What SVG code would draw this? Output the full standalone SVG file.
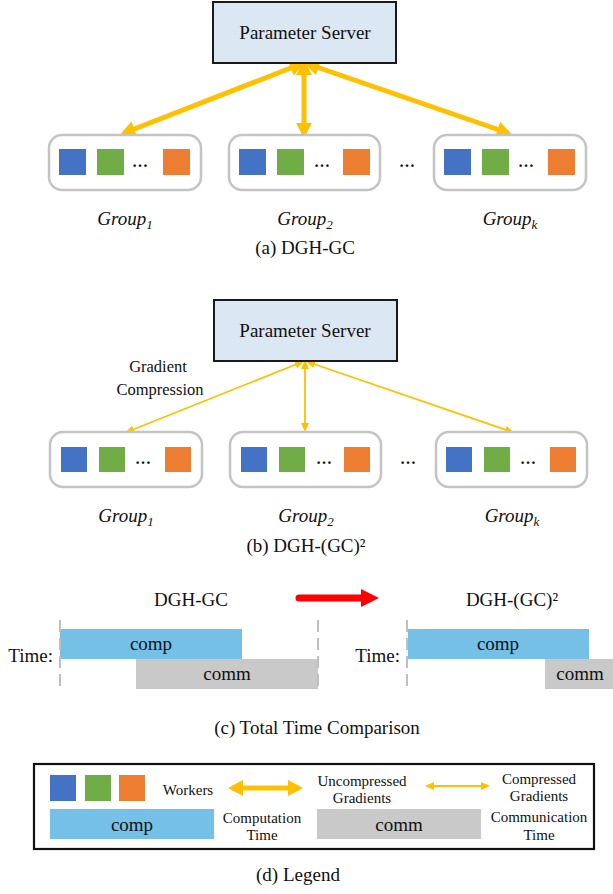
<svg xmlns="http://www.w3.org/2000/svg" width="613" height="894" viewBox="0 0 613 894">
<defs>
<style>
text{font-family:"Liberation Serif","Times New Roman",Tinos,"Noto Serif","DejaVu Serif",serif;fill:#111}
.ps{fill:#DCE7F4;stroke:#1a1a1a;stroke-width:2}
.grp{fill:#fff;stroke:#C4C4C4;stroke-width:2.5}
.b{fill:#4472C4}.g{fill:#70AD47}.o{fill:#ED7D31}
.thick{stroke:#FFC000;stroke-width:5;fill:none;marker-start:url(#hT);marker-end:url(#hT)}
.thin{stroke:#FFC000;stroke-width:1.8;fill:none;marker-start:url(#hS);marker-end:url(#hS)}
.comp{fill:#75C0E7}.comm{fill:#C9C9C9}
.dash{stroke:#BFBFBF;stroke-width:2;stroke-dasharray:12 6}
.lbl{font-size:19px;text-anchor:middle}
.gc{font-size:16.5px;text-anchor:middle}
.gl{font-size:19px;font-style:italic;text-anchor:middle}
.sub{font-size:13px}
.sm{font-size:15px;text-anchor:middle}
.dots{font-size:16px;font-weight:bold;text-anchor:middle}
.tm{font-size:19px;text-anchor:end}
</style>
<marker id="hT" markerUnits="userSpaceOnUse" markerWidth="16" markerHeight="16" viewBox="0 0 15 16" refX="11" refY="8" orient="auto-start-reverse"><path d="M0,0 L15,8 L0,16 Z" fill="#FFC000"/></marker>
<marker id="hS" markerUnits="userSpaceOnUse" markerWidth="9" markerHeight="8" viewBox="0 0 9 8" refX="7" refY="4" orient="auto-start-reverse"><path d="M0,0 L9,4 L0,8 Z" fill="#FFC000"/></marker>
</defs>

<!-- (a) DGH-GC -->
<g id="connectors-a">
<line class="thick" x1="124" y1="133" x2="301" y2="64"/>
<line class="thick" x1="304" y1="134" x2="304" y2="64"/>
<line class="thick" x1="508" y1="133" x2="308" y2="64"/>
</g>
<g id="ps-a"><rect class="ps" x="213" y="2" width="183" height="61"/><text class="lbl" x="305" y="39">Parameter Server</text></g>
<g id="group1-a">
<rect class="grp" x="49" y="135" width="152" height="55" rx="13"/>
<rect class="b" x="59" y="149" width="27" height="26"/><rect class="g" x="97" y="149" width="27" height="26"/><rect class="o" x="163" y="149" width="27" height="26"/>
<text class="dots" x="140" y="167">…</text>
<text class="gl" x="125" y="225">Group<tspan class="sub" dy="4">1</tspan></text>
</g>
<g id="group2-a">
<rect class="grp" x="229" y="135" width="151" height="55" rx="13"/>
<rect class="b" x="239" y="149" width="27" height="26"/><rect class="g" x="277" y="149" width="27" height="26"/><rect class="o" x="343" y="149" width="27" height="26"/>
<text class="dots" x="322" y="167">…</text>
<text class="gl" x="305" y="225">Group<tspan class="sub" dy="4">2</tspan></text>
</g>
<text class="dots" x="407" y="167">…</text>
<g id="groupk-a">
<rect class="grp" x="434" y="135" width="152" height="55" rx="13"/>
<rect class="b" x="444" y="149" width="27" height="26"/><rect class="g" x="482" y="149" width="27" height="26"/><rect class="o" x="548" y="149" width="27" height="26"/>
<text class="dots" x="526" y="167">…</text>
<text class="gl" x="510" y="225">Group<tspan class="sub" dy="4">k</tspan></text>
</g>
<text class="lbl" x="305" y="254">(a) DGH-GC</text>

<!-- (b) DGH-(GC)^2 -->
<g id="connectors-b">
<line class="thin" x1="127" y1="432" x2="302" y2="362"/>
<line class="thin" x1="305" y1="430" x2="305" y2="362"/>
<line class="thin" x1="512" y1="432" x2="308" y2="362"/>
</g>
<g id="ps-b"><rect class="ps" x="214" y="300" width="183" height="61"/><text class="lbl" x="305" y="337">Parameter Server</text></g>
<text class="gc" x="158" y="372">Gradient</text>
<text class="gc" x="160" y="395">Compression</text>
<g id="group1-b">
<rect class="grp" x="50" y="432" width="152" height="55" rx="13"/>
<rect class="b" x="61" y="447" width="26" height="25"/><rect class="g" x="99" y="447" width="26" height="25"/><rect class="o" x="165" y="447" width="26" height="25"/>
<text class="dots" x="143" y="464">…</text>
<text class="gl" x="126" y="522">Group<tspan class="sub" dy="4">1</tspan></text>
</g>
<g id="group2-b">
<rect class="grp" x="230" y="432" width="151" height="55" rx="13"/>
<rect class="b" x="241" y="447" width="26" height="25"/><rect class="g" x="279" y="447" width="26" height="25"/><rect class="o" x="344" y="447" width="26" height="25"/>
<text class="dots" x="324" y="464">…</text>
<text class="gl" x="306" y="522">Group<tspan class="sub" dy="4">2</tspan></text>
</g>
<text class="dots" x="408" y="464">…</text>
<g id="groupk-b">
<rect class="grp" x="436" y="432" width="151" height="55" rx="13"/>
<rect class="b" x="446" y="447" width="26" height="25"/><rect class="g" x="484" y="447" width="26" height="25"/><rect class="o" x="550" y="447" width="26" height="25"/>
<text class="dots" x="528" y="464">…</text>
<text class="gl" x="512" y="522">Group<tspan class="sub" dy="4">k</tspan></text>
</g>
<text class="lbl" x="306" y="552">(b) DGH-(GC)²</text>

<!-- (c) Total Time Comparison -->
<g id="timeline-left">
<text class="lbl" x="191" y="606">DGH-GC</text>
<rect class="comp" x="60" y="629" width="182" height="30"/>
<rect class="comm" x="136" y="659" width="182" height="30"/>
<line class="dash" x1="60" y1="620" x2="60" y2="692"/>
<line class="dash" x1="318" y1="620" x2="318" y2="692"/>
<text class="lbl" x="151" y="650">comp</text>
<text class="lbl" x="227" y="680">comm</text>
<text class="tm" x="53" y="662">Time:</text>
</g>
<g id="red-arrow">
<line x1="299" y1="598" x2="364" y2="598" stroke="#FF0000" stroke-width="7" stroke-linecap="round"/>
<path d="M361,589 L379,598 L361,607 Z" fill="#FF0000"/>
</g>
<g id="timeline-right">
<text class="lbl" x="512" y="606">DGH-(GC)²</text>
<rect class="comp" x="408" y="629" width="181" height="30"/>
<rect class="comm" x="545" y="659" width="68" height="30"/>
<line class="dash" x1="407" y1="620" x2="407" y2="692"/>
<text class="lbl" x="498" y="650">comp</text>
<text class="lbl" x="580" y="680">comm</text>
<text class="tm" x="400" y="662">Time:</text>
</g>
<text class="lbl" x="317" y="734">(c) Total Time Comparison</text>

<!-- (d) Legend -->
<g id="legend">
<rect x="34" y="764" width="560" height="85" fill="none" stroke="#111" stroke-width="2.2"/>
<rect class="b" x="50" y="775" width="26" height="26"/><rect class="g" x="85" y="775" width="26" height="26"/><rect class="o" x="119" y="775" width="26" height="26"/>
<text class="sm" x="188" y="795">Workers</text>
<line class="thick" x1="232" y1="788" x2="299" y2="788"/>
<text class="sm" x="362" y="786">Uncompressed</text>
<text class="sm" x="362" y="803">Gradients</text>
<line class="thin" x1="427" y1="786" x2="488" y2="786"/>
<text class="sm" x="539" y="784">Compressed</text>
<text class="sm" x="539" y="801">Gradients</text>
<rect class="comp" x="50" y="809" width="164" height="30"/>
<text class="lbl" x="132" y="831">comp</text>
<text class="sm" x="262" y="823">Computation</text>
<text class="sm" x="262" y="840">Time</text>
<rect class="comm" x="317" y="809" width="164" height="30"/>
<text class="lbl" x="399" y="831">comm</text>
<text class="sm" x="539" y="822">Communication</text>
<text class="sm" x="539" y="840">Time</text>
</g>
<text class="lbl" x="298" y="881">(d) Legend</text>
</svg>
